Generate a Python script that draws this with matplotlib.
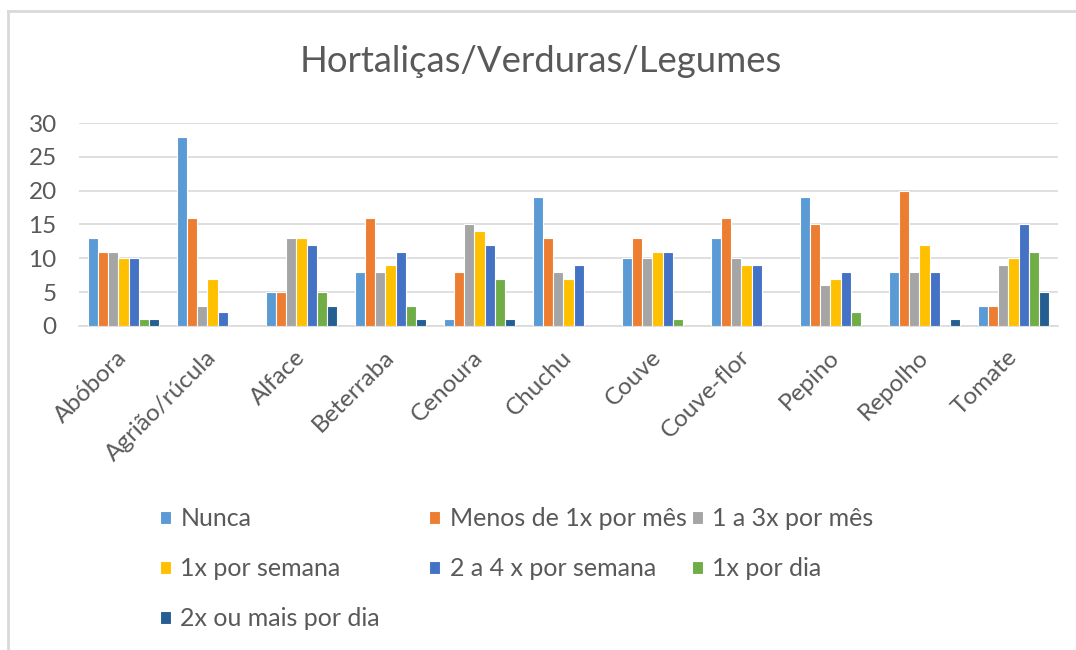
import matplotlib.pyplot as plt
import matplotlib.lines as mlines
import numpy as np

plt.rcParams['font.family'] = ['Lato', 'DejaVu Sans']

categorias = ['Abóbora', 'Agrião/rúcula', 'Alface', 'Beterraba', 'Cenoura', 'Chuchu',
              'Couve', 'Couve-flor', 'Pepino', 'Repolho', 'Tomate']

nunca = [13, 28, 5, 8, 1, 19, 10, 13, 19, 8, 3]
menos_1x_mes = [11, 16, 5, 16, 8, 13, 13, 16, 15, 20, 3]
um_a_3x_mes = [11, 3, 13, 8, 15, 8, 10, 10, 6, 8, 9]
um_x_semana = [10, 7, 13, 9, 14, 7, 11, 9, 7, 12, 10]
dois_a_4x_semana = [10, 2, 12, 11, 12, 9, 11, 9, 8, 8, 15]
um_x_dia = [1, 0, 5, 3, 7, 0, 1, 0, 2, 0, 11]
dois_x_dia = [1, 0, 3, 1, 1, 0, 0, 0, 0, 1, 5]

series = ['Nunca', 'Menos de 1x por mês', '1 a 3x por mês', '1x por semana',
          '2 a 4 x por semana', '1x por dia', '2x ou mais por dia']
valores = [nunca, menos_1x_mes, um_a_3x_mes, um_x_semana, dois_a_4x_semana, um_x_dia, dois_x_dia]
cores = ['#5B9BD5', '#ED7D31', '#A5A5A5', '#FFC000', '#4472C4', '#70AD47', '#255E91']

texto = '#595959'
cinza = '#D9D9D9'

fig = plt.figure(figsize=(10.76, 6.5), dpi=100)
ax = fig.add_axes([79 / 1076, 1 - 326 / 650, (1058 - 79) / 1076, (326 - 123) / 650])

x = np.arange(len(categorias))
n = len(series)
w = 0.8 / n
barras = []
for i in range(n):
    b = ax.bar(x - 0.4 + w * (i + 0.5), valores[i], w, color=cores[i],
               edgecolor='white', linewidth=0.8, label=series[i], zorder=3)
    barras.append(b)

ax.set_xlim(-0.5, len(categorias) - 0.5)
ax.set_ylim(0, 30)
ax.set_yticks([0, 5, 10, 15, 20, 25, 30])
ax.yaxis.grid(True, color=cinza, linewidth=1.2, zorder=0)
for s in ['top', 'right', 'left']:
    ax.spines[s].set_visible(False)
ax.spines['bottom'].set_color(cinza)
ax.spines['bottom'].set_linewidth(1.2)
ax.tick_params(axis='both', length=0, colors=texto, labelsize=17.5)
ax.tick_params(axis='y', pad=16)
ax.set_xticks(x)
ax.set_xticklabels(categorias, rotation=45, ha='right', va='center', rotation_mode='anchor')
ax.tick_params(axis='x', pad=20)

fig.text(541 / 1076, 1 - 62 / 650, 'Hortaliças/Verduras/Legumes', ha='center', va='center',
         fontsize=26.3, color=texto)

# legenda em tres colunas com largura fixa
colunas = [[0, 3, 6], [1, 4], [2, 5]]
xs = [160, 429, 692]
for col, xc in zip(colunas, xs):
    leg = fig.legend([barras[i] for i in col], [series[i] for i in col],
                     loc='upper left', bbox_to_anchor=(xc / 1076, 1 - 507 / 650),
                     frameon=False, fontsize=18, borderpad=0, borderaxespad=0,
                     handlelength=0.42, handleheight=0.42, handletextpad=0.4,
                     labelspacing=1.08)
    for t in leg.get_texts():
        t.set_color(texto)

# moldura do grafico
fig.add_artist(mlines.Line2D([8 / 1076, 1], [1 - 11 / 650, 1 - 11 / 650], color=cinza, linewidth=2))
fig.add_artist(mlines.Line2D([8 / 1076, 8 / 1076], [0, 1 - 11 / 650], color=cinza, linewidth=2))

fig.savefig('out.png', dpi=100)
